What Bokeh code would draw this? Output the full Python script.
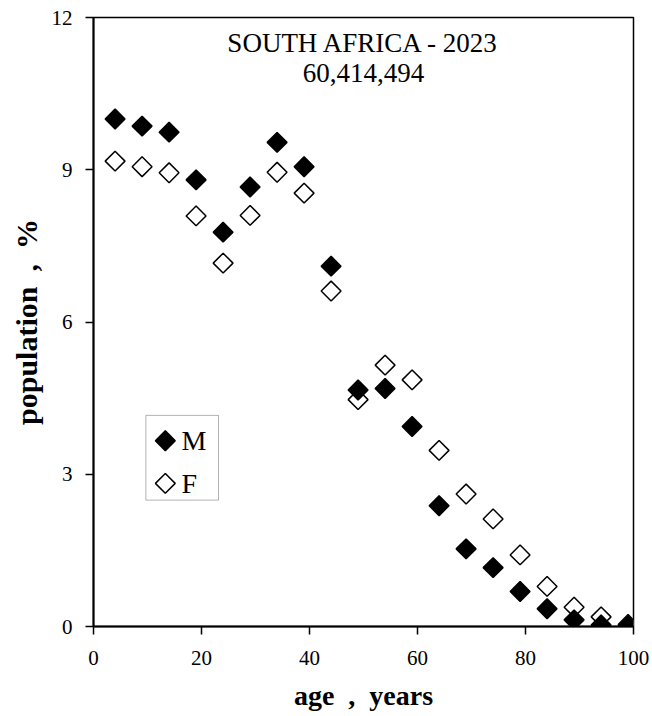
import math
from bokeh.plotting import figure
from bokeh.models import Range1d, Label, FixedTicker, ColumnDataSource, BoxAnnotation
from bokeh.embed import file_html
from bokeh.resources import INLINE

# ---- data ----
age = [4, 9, 14, 19, 24, 29, 34, 39, 44, 49, 54, 59, 64, 69, 74, 79, 84, 89, 94, 99]
male = [10.00, 9.86, 9.74, 8.80, 7.77, 8.66, 9.54, 9.06, 7.10, 4.66, 4.69, 3.94,
        2.38, 1.53, 1.16, 0.69, 0.35, 0.13, 0.03, 0.01]
female = [9.17, 9.06, 8.94, 8.09, 7.16, 8.10, 8.95, 8.54, 6.61, 4.47, 5.15, 4.86,
          3.47, 2.61, 2.12, 1.41, 0.79, 0.38, 0.19, 0.04]
series_names = ["M", "F"]
title_lines = ["SOUTH AFRICA - 2023", "60,414,494"]
x_ticks = [0, 20, 40, 60, 80, 100]
y_ticks = [0, 3, 6, 9, 12]
NB = "\u00a0"
x_label = "age" + NB * 2 + "," + NB * 2 + "years"
y_label = "population" + NB * 2 + "," + NB * 2 + "%"

FONT = "Liberation Serif"

p = figure(width=652, height=716, output_backend="svg", toolbar_location=None,
           x_range=Range1d(0, 100), y_range=Range1d(0, 12),
           min_border_left=93, min_border_right=19, min_border_top=17,
           min_border_bottom=90, background_fill_color="white",
           border_fill_color="white")

p.outline_line_color = "black"
p.outline_line_width = 1.5
p.xgrid.visible = False
p.ygrid.visible = False

for ax in (p.xaxis[0], p.yaxis[0]):
    ax.axis_line_color = "black"
    ax.axis_line_width = 2
    ax.major_tick_line_color = "black"
    ax.major_tick_line_width = 1.5
    ax.major_tick_in = 0
    ax.major_tick_out = 8
    ax.minor_tick_line_color = None
    ax.major_label_text_font = FONT
    ax.major_label_text_font_size = "21px"
    ax.major_label_text_color = "black"
    ax.axis_label_text_font = FONT
    ax.axis_label_text_font_style = "bold"
    ax.axis_label_text_color = "black"

p.xaxis.axis_label_text_font_size = "28px"
p.yaxis.axis_label_text_font_size = "30px"
p.xaxis.ticker = FixedTicker(ticks=x_ticks)
p.yaxis.ticker = FixedTicker(ticks=y_ticks)
p.xaxis.axis_label = x_label
p.yaxis.axis_label = y_label
p.xaxis.major_label_standoff = 16
p.yaxis.major_label_standoff = 13
p.xaxis.axis_label_standoff = 12
p.yaxis.axis_label_standoff = 6

src = ColumnDataSource(dict(age=age, male=male, female=female))

MARK = dict(marker="square", angle=math.pi / 4, size=14, line_color="black",
            line_width=1.5)
rf = p.scatter("age", "female", source=src, fill_color="white", **MARK)
rm = p.scatter("age", "male", source=src, fill_color="black", **MARK)

# ---- legend box (drawn by hand so the swatches are diamonds, as in the reference) ----
p.add_layout(BoxAnnotation(left=9.7, right=23.15, bottom=2.49, top=4.16,
                           fill_color="white", fill_alpha=1,
                           line_color="black", line_width=1, level="underlay"))
legend_x = 13.3
legend_label_x = 16.3
legend_y = [3.66, 2.82]
legend_fill = ["black", "white"]
for name, yy, fc in zip(series_names, legend_y, legend_fill):
    p.scatter([legend_x], [yy], fill_color=fc, **MARK)
    p.add_layout(Label(x=legend_label_x, y=yy, text=name, text_align="left",
                       text_baseline="middle", text_font=FONT,
                       text_font_size="28px", text_color="black"))

p.add_layout(Label(x=50, y=11.5, text=title_lines[0], text_align="center",
                   text_baseline="middle", text_font=FONT, text_font_size="27px",
                   text_color="black"))
p.add_layout(Label(x=50, y=10.9, text=title_lines[1], text_align="center",
                   text_baseline="middle", text_font=FONT, text_font_size="27px",
                   text_color="black"))

open("out.html", "w").write(file_html(p, INLINE))
